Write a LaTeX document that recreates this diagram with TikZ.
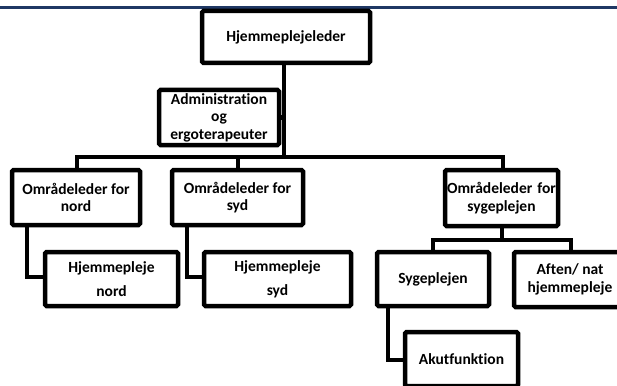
\documentclass[tikz,border=0pt]{standalone}
\usepackage{fontspec}
\setmainfont[Ligatures=NoCommon]{Carlito}
\definecolor{navy}{HTML}{1F3864}
\begin{document}
\begin{tikzpicture}[x=1pt,y=-1pt,
  box/.style={draw=black,line width=4.5pt,fill=white,rounded corners=1.5pt,inner sep=0pt,
    align=center,font=\bfseries\fontsize{15.5}{17.5}\selectfont},
  wide/.style={font=\bfseries\fontsize{15.5}{24}\selectfont},
  conn/.style={draw=black,line width=4.5pt,line join=miter}]
\path[use as bounding box] (0,0) rectangle (617,385);
\fill[white] (0,0) rectangle (617,385);
\draw[navy,line width=3pt] (0,8) -- (617,8);
% connector anchors
\coordinate (bar) at (0,157);
\coordinate (p1) at (284,65);
\coordinate (nv) at (27,0);
\coordinate (sv) at (187,0);
\coordinate (av) at (388,0);
\coordinate (hl) at (0,277);
\coordinate (al) at (0,360);
\coordinate (bl) at (77,157);
\coordinate (br) at (503,157);
\coordinate (c1) at (238,157);
\coordinate (sl) at (433,240);
\coordinate (sr) at (571,240);
\coordinate (sm) at (502,240);
% boxes
\node[box,minimum width=168pt,minimum height=52pt] (H) at (286,37) {Hjemmeplejeleder};
\node[box,minimum width=120pt,minimum height=55pt] (A) at (219,117.5) {Administration\\og\\ergoterapeuter};
\node[box,minimum width=128pt,minimum height=55pt] (ON) at (76,197.5) {Områdeleder for\\nord};
\node[box,minimum width=131pt,minimum height=55pt] (OS) at (237.5,197.5) {Områdeleder for\\syd};
\node[box,minimum width=113pt,minimum height=56pt,text width=113pt] (OG) at (501.5,198) {Områdeleder for\\sygeplejen};
\node[box,wide,minimum width=133pt,minimum height=54pt] (HN) at (111.5,279) {Hjemmepleje\\nord};
\node[box,wide,minimum width=147pt,minimum height=54pt] (HS) at (277.5,279) {Hjemmepleje\\syd};
\node[box,minimum width=112pt,minimum height=54pt] (SG) at (433,279) {Sygeplejen};
\node[box,minimum width=112pt,minimum height=55pt] (AF) at (570,279.5) {Aften/ nat\\hjemmepleje};
\node[box,minimum width=113pt,minimum height=54pt] (AK) at (461.5,359) {Akutfunktion};
% connectors
\draw[conn] (H.south -| p1) -- (p1 |- bar);
\draw[conn] (A.east) -- (A.east -| p1);
\draw[conn] (ON.north -| bl) -- (bl) -- (br) -- (OG.north -| br);
\draw[conn] (c1) -- (OS.north -| c1);
\draw[conn] (ON.south -| nv) -- (nv |- hl) -- (HN.west |- hl);
\draw[conn] (OS.south -| sv) -- (sv |- hl) -- (HS.west |- hl);
\draw[conn] (OG.south -| sm) -- (sm);
\draw[conn] (SG.north -| sl) -- (sl) -- (sr) -- (AF.north -| sr);
\draw[conn] (SG.south -| av) -- (av |- al) -- (AK.west |- al);
\end{tikzpicture}
\end{document}
